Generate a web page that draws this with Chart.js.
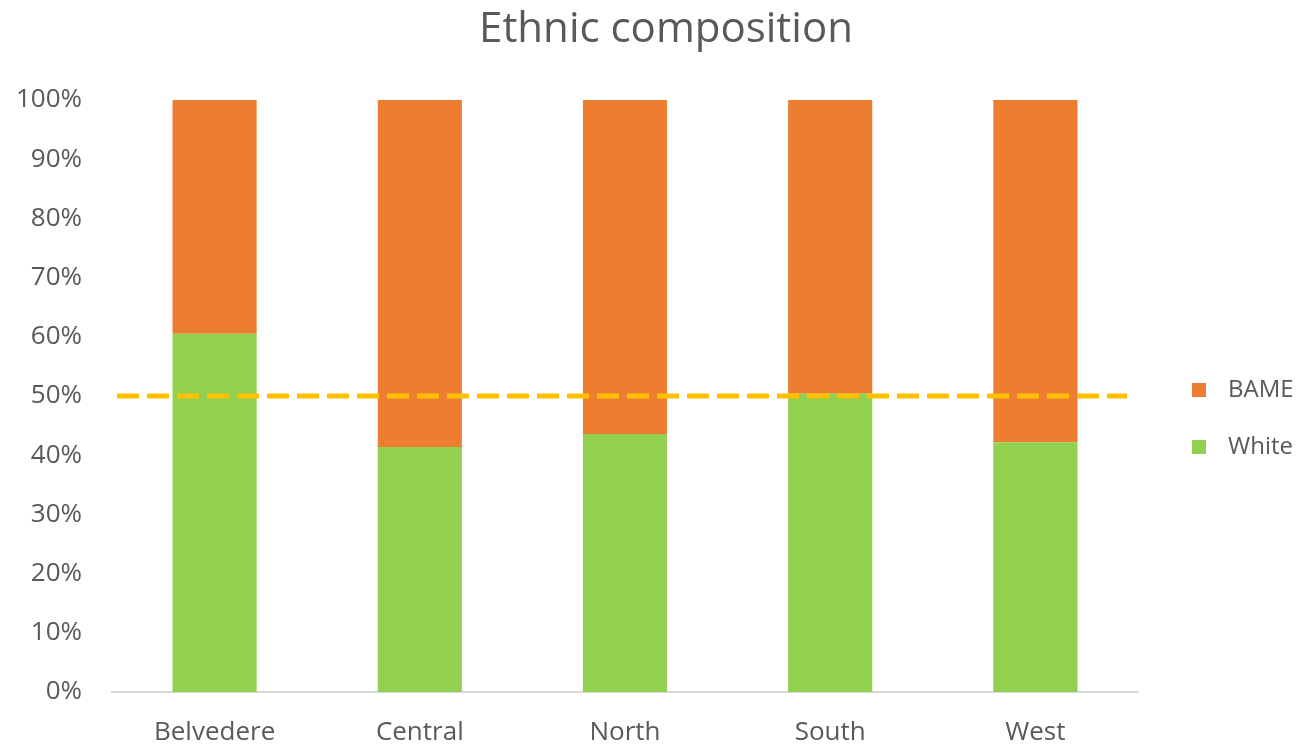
<!DOCTYPE html>
<html>
<head>
<meta charset="utf-8">
<script src="https://cdn.jsdelivr.net/npm/chart.js@4.4.0/dist/chart.umd.min.js"></script>
<style>
html,body{margin:0;padding:0;background:#fff;}
#wrap{width:1310px;height:746px;position:relative;}
</style>
</head>
<body>
<div id="wrap"><canvas id="c" width="1310" height="746"></canvas></div>
<script>
const categories = ["Belvedere", "Central", "North", "South", "West"];
const whiteShare = [60.5, 41.4, 43.6, 50.4, 42.2];
const bameShare = [39.5, 58.6, 56.4, 49.6, 57.8];
const yTicks = [0, 10, 20, 30, 40, 50, 60, 70, 80, 90, 100];
const threshold = 50;
const chartTitle = 'Ethnic composition';
const FONT = 'Open Sans';

const thresholdLine = {
  id: 'thresholdLine',
  afterDatasetsDraw(chart) {
    const {ctx, chartArea, scales} = chart;
    const y = scales.y.getPixelForValue(threshold);
    ctx.save();
    ctx.strokeStyle = '#FFC000';
    ctx.lineWidth = 5;
    ctx.setLineDash([22, 8]);
    ctx.beginPath();
    ctx.moveTo(chartArea.left + 5, y);
    ctx.lineTo(chartArea.right - 11, y);
    ctx.stroke();
    ctx.restore();
  }
};

const titleAndLegend = {
  id: 'titleAndLegend',
  afterDraw(chart) {
    const {ctx, chartArea, width} = chart;
    ctx.save();
    // title, centred on the canvas
    ctx.font = '42px "' + FONT + '"';
    ctx.fillStyle = '#595959';
    ctx.textAlign = 'center';
    ctx.textBaseline = 'middle';
    ctx.fillText(chartTitle, width / 2 + 11, 30);
    // legend on the right
    const mid = (chartArea.top + chartArea.bottom) / 2;
    const items = chart.data.datasets.slice().reverse();
    const x0 = chartArea.right + 54;
    ctx.font = '24px "' + FONT + '"';
    ctx.textAlign = 'left';
    items.forEach((ds, i) => {
      const cy = mid - 6 + i * 57;
      ctx.fillStyle = ds.backgroundColor;
      ctx.fillRect(x0, cy - 7, 14, 14);
      ctx.fillStyle = '#595959';
      ctx.fillText(ds.label, x0 + 36, cy);
    });
    ctx.restore();
  }
};

new Chart(document.getElementById('c'), {
  type: 'bar',
  data: {
    labels: categories,
    datasets: [
      {label: 'White', data: whiteShare, backgroundColor: '#92D050', barPercentage: 0.82, categoryPercentage: 0.5},
      {label: 'BAME', data: bameShare, backgroundColor: '#ED7D31', barPercentage: 0.82, categoryPercentage: 0.5}
    ]
  },
  options: {
    responsive: false,
    animation: false,
    layout: {padding: {left: 0, right: 172, top: 100, bottom: 0}},
    plugins: {
      title: {display: false},
      legend: {display: false},
      tooltip: {enabled: false}
    },
    scales: {
      x: {
        stacked: true,
        grid: {display: false, drawTicks: false},
        border: {color: '#D9D9D9', width: 2},
        ticks: {color: '#595959', font: {family: FONT, size: 26}, padding: 25},
        afterFit(scale) { scale.height = 54; }
      },
      y: {
        stacked: true,
        min: 0, max: 100,
        afterBuildTicks(scale) { scale.ticks = yTicks.map(v => ({value: v})); },
        grid: {display: false, drawTicks: false},
        border: {display: false},
        ticks: {color: '#595959', font: {family: FONT, size: 26}, padding: 30, callback: v => v + '%'},
        afterFit(scale) { scale.width = 112; }
      }
    }
  },
  plugins: [thresholdLine, titleAndLegend]
});
</script>
</body>
</html>
